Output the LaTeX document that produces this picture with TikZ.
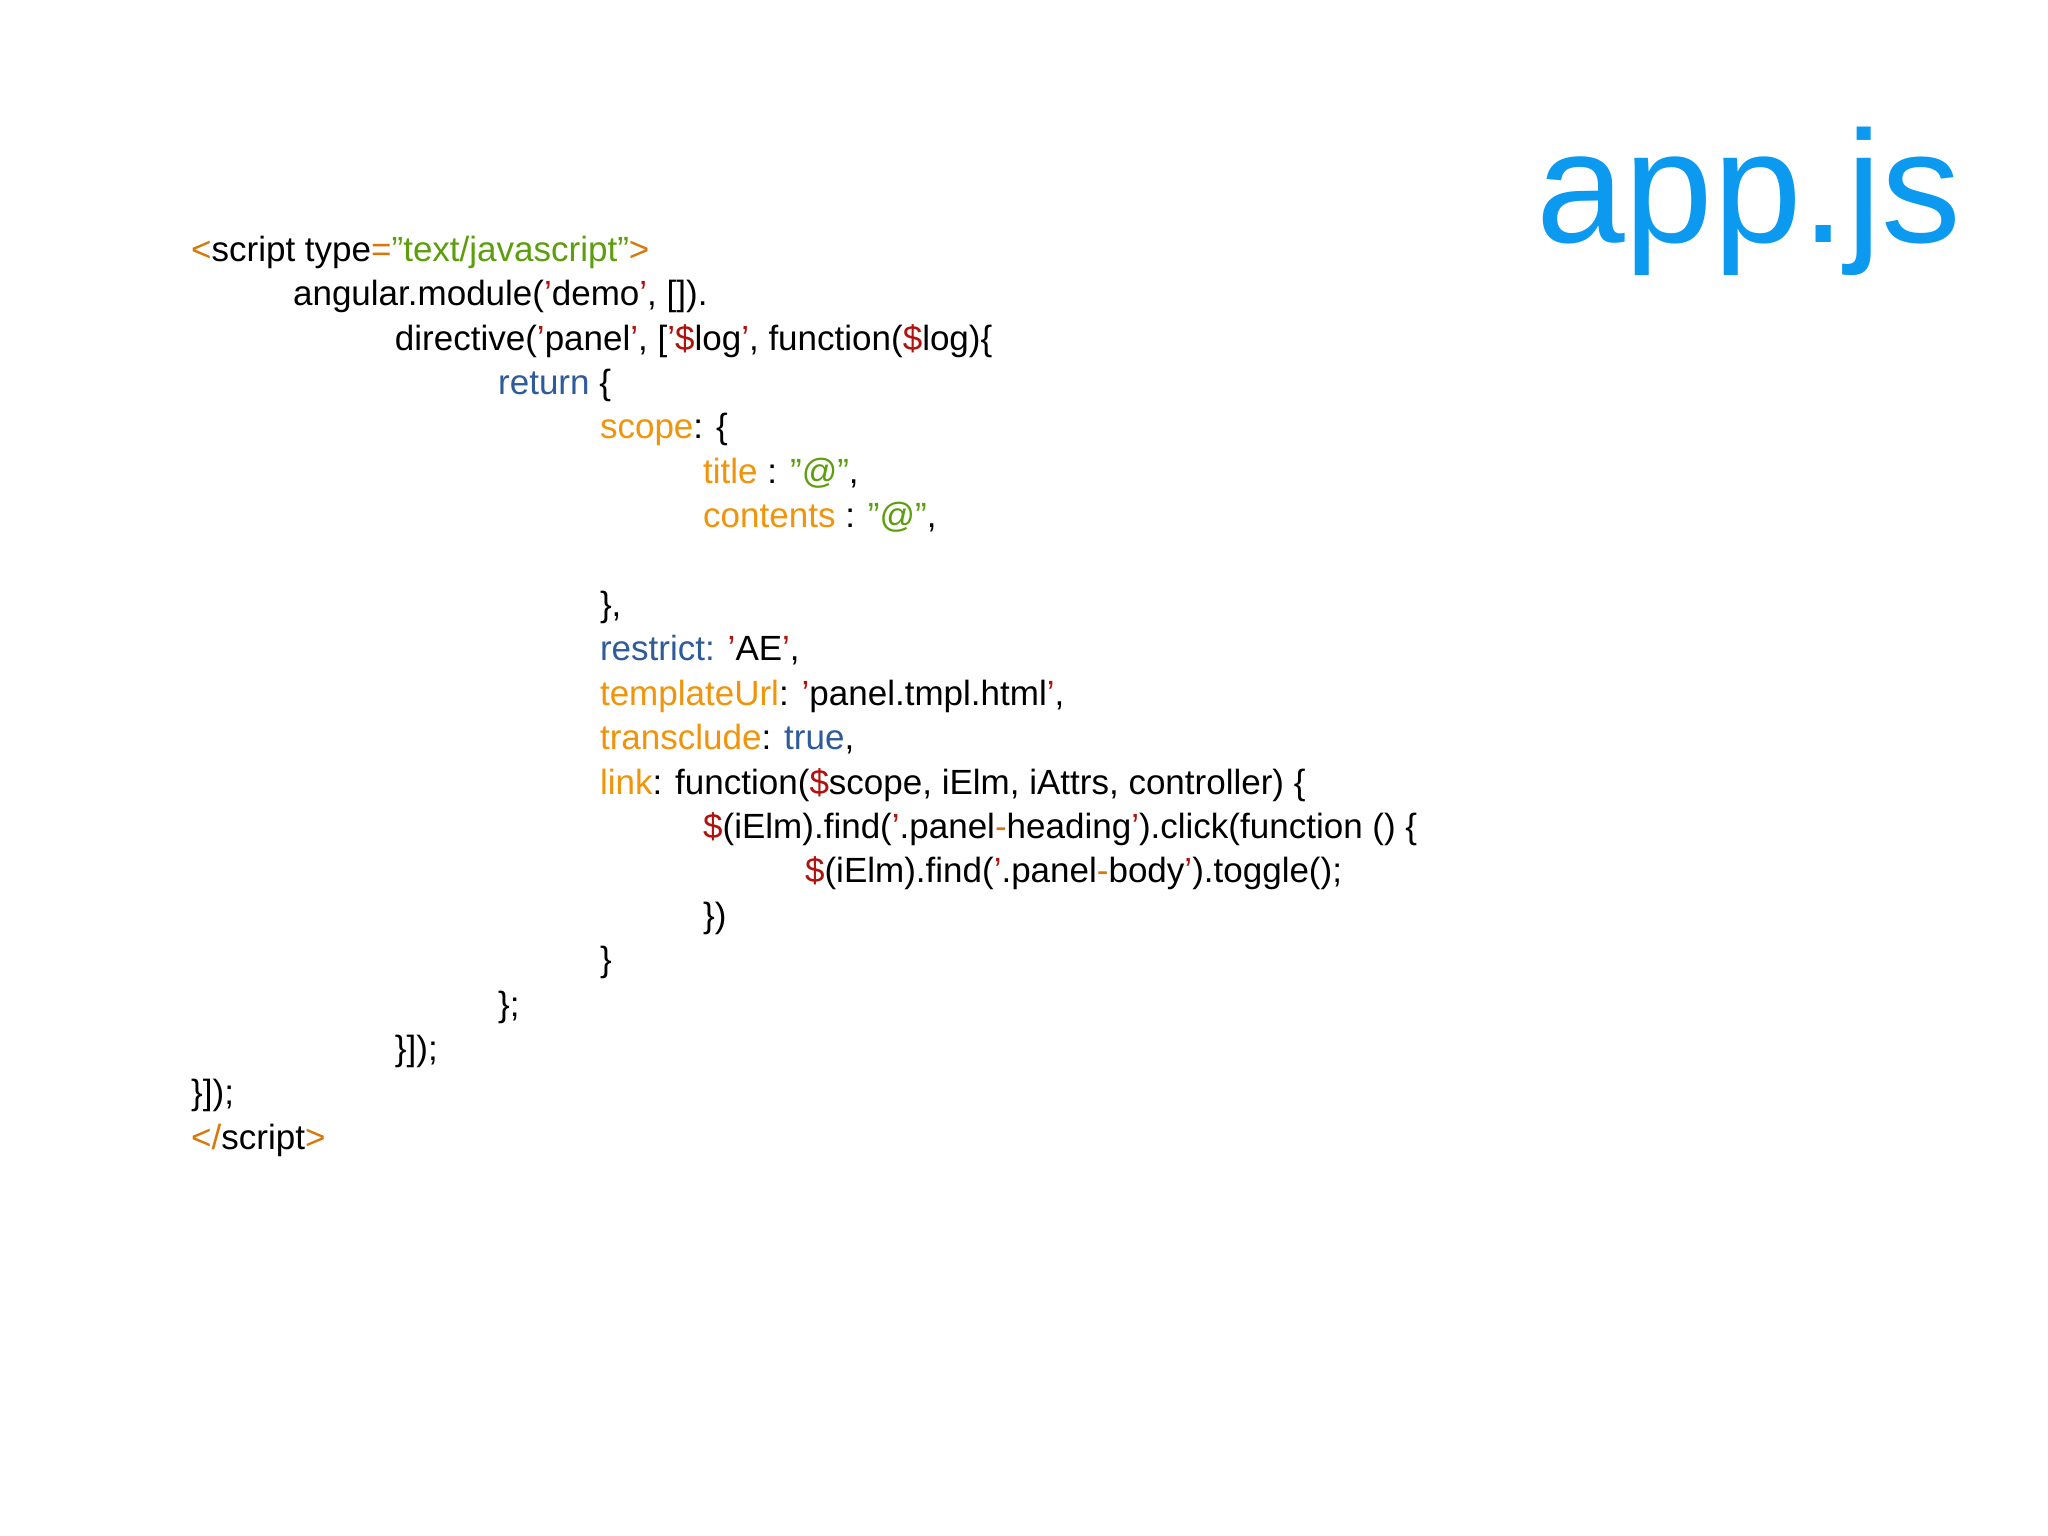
\documentclass[tikz,border=0pt]{standalone}
\usepackage{fontspec}
\setmainfont{Liberation Sans}
\definecolor{kOr}{HTML}{D9770A}
\definecolor{kGr}{HTML}{5C9E0C}
\definecolor{kRd}{HTML}{B0120E}
\definecolor{kBl}{HTML}{2E5C9A}
\definecolor{kYe}{HTML}{F0940C}
\definecolor{kTitle}{HTML}{0B9AF0}
\newcommand\kO[1]{\textcolor{kOr}{#1}}
\newcommand\kG[1]{\textcolor{kGr}{#1}}
\newcommand\kR[1]{\textcolor{kRd}{#1}}
\newcommand\kB[1]{\textcolor{kBl}{#1}}
\newcommand\kY[1]{\textcolor{kYe}{#1}}
\begin{document}
\begin{tikzpicture}[x=0.5pt,y=-0.5pt,
  code/.style={anchor=base west,inner sep=0pt,font=\fontsize{13.4}{16}\selectfont}]
\useasboundingbox (0,0) rectangle (1568,1176);
\fill[white] (0,0) rectangle (1568,1176);
\node[anchor=base east,inner sep=0pt,text=kTitle,font=\fontsize{61}{70}\selectfont] (t) at (1502,186) {app.js};
\node[code] (l1) at (146,200) {\kO{<}script type\kO{=}\kG{"text/javascript"}\kO{>}};
\node[code] (l2) at (224,234) {angular.module(\kR{'}demo\kR{'}, []).};
\node[code] (l3) at (302,268) {directive(\kR{'}panel\kR{'}, [\kR{'\$}log\kR{'}, function(\kR{\$}log)\{};
\node[code] (l4) at (381,302) {\kB{return} \{};
\node[code] (l5) at (459,336) {\kY{scope}: \{};
\node[code] (l6) at (538,370) {\kY{title} : \kG{"@"},};
\node[code] (l7) at (538,404) {\kY{contents} : \kG{"@"},};
\node[code] (l8) at (459,472) {\},};
\node[code] (l9) at (459,506) {\kB{restrict:} \kR{'}AE\kR{'},};
\node[code] (l10) at (459,540) {\kY{templateUrl}: \kR{'}panel.tmpl.html\kR{'},};
\node[code] (l11) at (459,574) {\kY{transclude}: \kB{true},};
\node[code] (l12) at (459,608) {\kY{link}: function(\kR{\$}scope, iElm, iAttrs, controller) \{};
\node[code] (l13) at (538,642) {\kR{\$}(iElm).find(\kR{'}.panel\kO{-}heading\kR{'}).click(function () \{};
\node[code] (l14) at (616,676) {\kR{\$}(iElm).find(\kR{'}.panel\kO{-}body\kR{'}).toggle();};
\node[code] (l15) at (538,710) {\})};
\node[code] (l16) at (459,744) {\}};
\node[code] (l17) at (381,778) {\};};
\node[code] (l18) at (302,812) {\}]);};
\node[code] (l19) at (146,846) {\}]);};
\node[code] (l20) at (146,880) {\kO{</}script\kO{>}};
\end{tikzpicture}
\end{document}
